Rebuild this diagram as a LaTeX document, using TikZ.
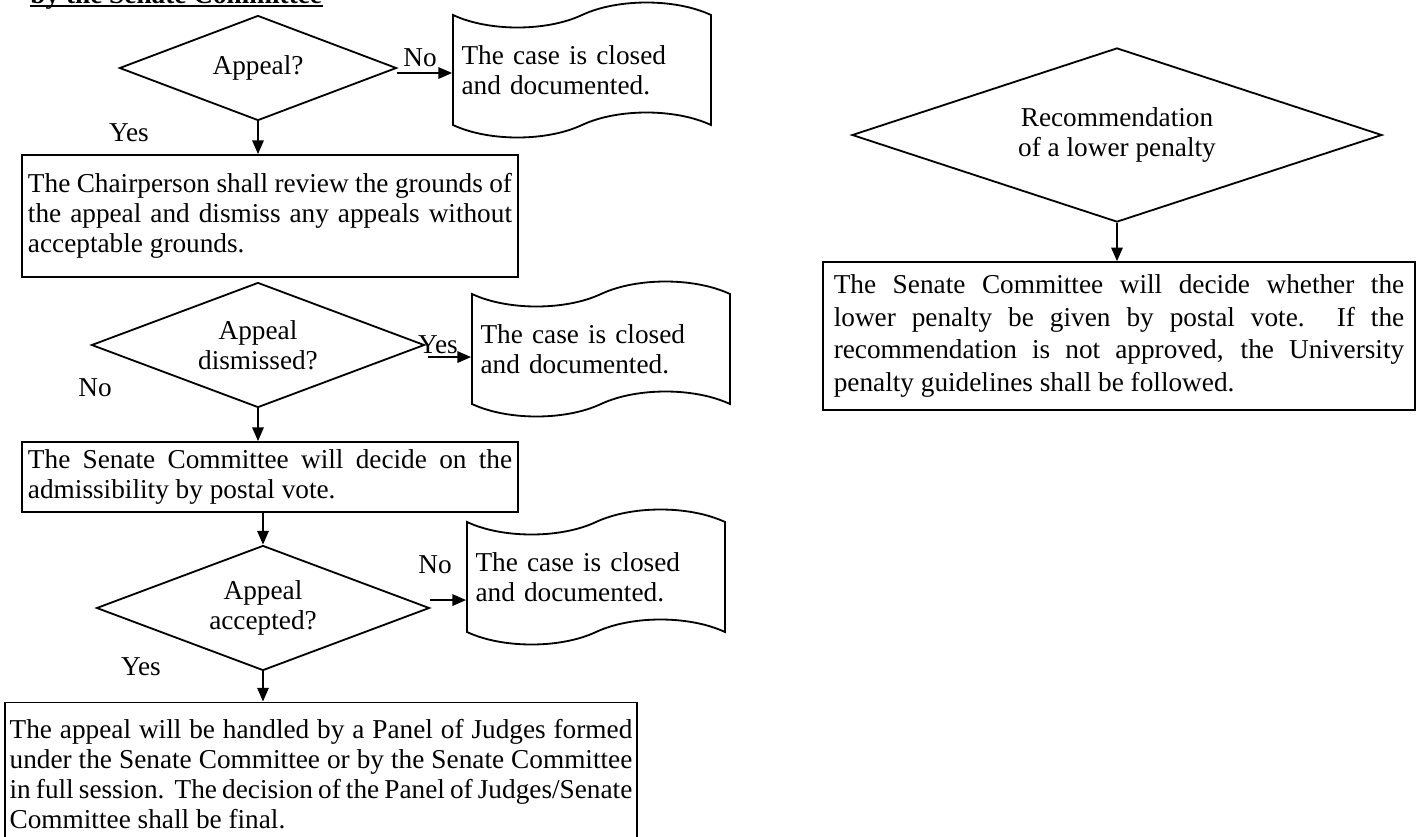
\documentclass[tikz,border=0pt]{standalone}
\usepackage{fontspec}
\setmainfont{Liberation Serif}
\usetikzlibrary{shapes.geometric,shapes.symbols,arrows.meta}

\begin{document}
\begin{tikzpicture}[x=0.44pt,y=-0.44pt,
    font=\fontsize{12}{13.2}\selectfont,
    every node/.style={inner sep=0pt},
    decision/.style={diamond,draw,line width=0.8pt,align=center,aspect=2.7},
    process/.style={rectangle,draw,line width=0.8pt,align=justify,inner xsep=2.5pt},
    closed/.style={tape,draw,line width=0.8pt,tape bend height=11pt,
        minimum width=113.5pt,minimum height=59.4pt,align=left,text width=106pt,inner xsep=3.5pt},
    flow/.style={-{Triangle[length=6pt,width=5pt]},line width=0.8pt}]
    \useasboundingbox (0,0) rectangle (1421,836);
    \hyphenpenalty=10000

    % title, cut at the top of the page
    \node[anchor=base west,font=\fontsize{12}{13.2}\selectfont\bfseries] (title) at (30,3) {by the Senate Committee};
    \draw[line width=0.9pt] ([yshift=-1.2pt]title.base west) -- ([yshift=-1.2pt]title.base east);

    % left column
    \node[decision,minimum width=121.9pt,minimum height=46.2pt] (appeal) at (258,68) {Appeal?};
    \node[closed] (closedA) at (582,70) {The case is closed\\and documented.};
    \node[process,text width=213pt,minimum height=53.7pt] (review) at (270,216)
        {The Chairperson shall review the grounds of\linebreak the appeal and dismiss any appeals without\linebreak acceptable grounds.};

    \node[decision,minimum width=146.5pt,minimum height=55pt] (dismissed) at (258,345) {Appeal\\dismissed?};
    \node[closed] (closedB) at (601,349) {The case is closed\\and documented.};
    \node[process,text width=213pt,minimum height=30.8pt] (admiss) at (270,477)
        {The Senate Committee will decide on the\linebreak admissibility by postal vote.};

    \node[decision,minimum width=146.5pt,minimum height=55pt] (accepted) at (263,608) {Appeal\\accepted?};
    \node[closed] (closedC) at (596,577) {The case is closed\\and documented.};
    \node[process,text width=274pt,inner xsep=2pt,minimum height=63pt] (panel) at (321,774)
        {The appeal will be handled by a Panel of Judges formed\linebreak under the Senate Committee or by the Senate Committee\linebreak in full session.\ \ The decision of the Panel of Judges/Senate\linebreak Committee shall be final.};

    % right column
    \node[decision,aspect=3,minimum width=233.2pt,minimum height=76.6pt] (lower) at (1117,135)
        {Recommendation\\of a lower penalty};
    \node[process,font=\fontsize{12}{14.3}\selectfont,text width=251pt,inner xsep=4.7pt,minimum height=65pt] (postal) at (1119,336)
        {The Senate Committee will decide whether the\linebreak lower penalty be given by postal vote.\ \ If the\linebreak recommendation is not approved, the University\linebreak penalty guidelines shall be followed.};

    % branch labels
    \node (noA) at (420,58) {No};
    \node (yesA) at (129,133) {Yes};
    \node (yesB) at (438,345) {Yes};
    \node (noB) at (95,388) {No};
    \node (noC) at (435,565) {No};
    \node (yesC) at (141,667) {Yes};

    % side exits
    \coordinate (outA) at ([yshift=-2.2pt]appeal.east);
    \coordinate (outB) at ([xshift=1.3pt,yshift=-5.3pt]dismissed.east);
    \coordinate (outC) at ([yshift=3.5pt]accepted.east);

    \draw[flow] (appeal.south) -- (appeal.south |- review.north);
    \draw[flow] (outA) -- (outA -| closedA.west);
    \draw[flow] (dismissed.south) -- (dismissed.south |- admiss.north);
    \draw[flow] (outB) -- (outB -| closedB.west);
    \draw[flow] (admiss.south -| accepted.north) -- (accepted.north);
    \draw[flow] (outC) -- (outC -| closedC.west);
    \draw[flow] (accepted.south) -- (accepted.south |- panel.north);
    \draw[flow] (lower.south) -- (lower.south |- postal.north);
\end{tikzpicture}
\end{document}
